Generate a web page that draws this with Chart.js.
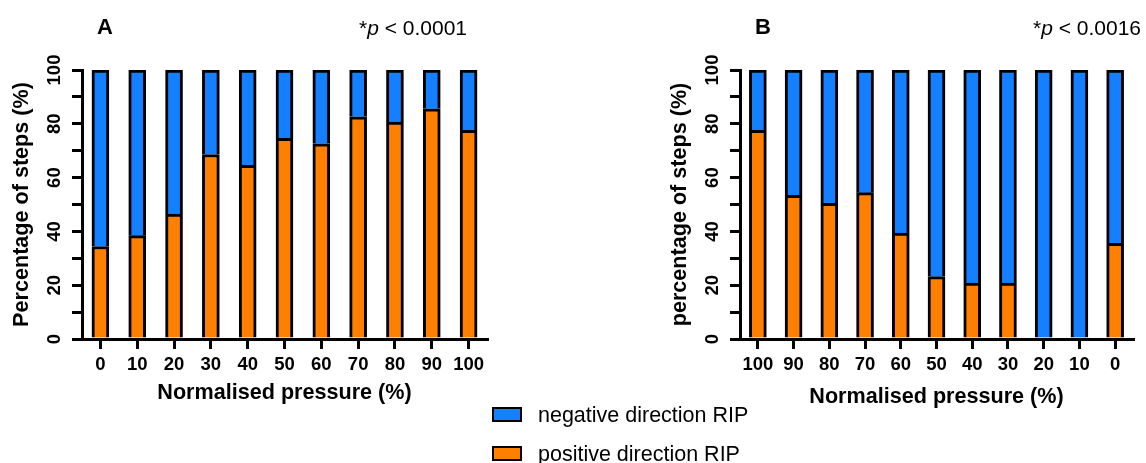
<!DOCTYPE html>
<html>
<head>
<meta charset="utf-8">
<script src="https://cdn.jsdelivr.net/npm/chart.js@4"></script>
<style>
  body { margin: 0; background: #fff; font-family: "Liberation Sans", Arial, sans-serif; }
  #wrap { position: relative; width: 1146px; height: 463px; overflow: hidden; }
  .painel { position: absolute; top: 0; height: 420px; }
  .txt { position: absolute; color: #000; white-space: nowrap; line-height: 1; }
  .letra { font-weight: bold; font-size: 22px; }
  .pval { font-size: 21px; }
  .caixa { position: absolute; left: 492px; width: 26px; height: 11px; border: 2px solid #000; }
  .leg { font-size: 21.5px; left: 538px; }
</style>
</head>
<body>
<div id="wrap">
  <div class="painel" style="left:0;width:500px"><canvas id="graficoA"></canvas></div>
  <div class="painel" style="left:658px;width:488px"><canvas id="graficoB"></canvas></div>

  <div class="txt letra" style="left:97px;top:16px">A</div>
  <div class="txt pval" style="left:359px;top:17px">*<i>p</i> &lt; 0.0001</div>
  <div class="txt letra" style="left:755px;top:16px">B</div>
  <div class="txt pval" style="left:1033px;top:17px">*<i>p</i> &lt; 0.0016</div>

  <div class="caixa" style="top:407px;background:#1480FF"></div>
  <div class="txt leg" style="top:405px">negative direction RIP</div>
  <div class="caixa" style="top:446px;background:#FF8000"></div>
  <div class="txt leg" style="top:444px">positive direction RIP</div>
</div>

<script>
const categoriasA = ['0', '10', '20', '30', '40', '50', '60', '70', '80', '90', '100'];
const positivoA = [34.4, 38.4, 46.4, 68.6, 64.6, 74.6, 72.6, 82.6, 80.6, 85.6, 77.6];
const negativoA = [65.6, 61.6, 53.6, 31.4, 35.4, 25.4, 27.4, 17.4, 19.4, 14.4, 22.4];

const categoriasB = ['100', '90', '80', '70', '60', '50', '40', '30', '20', '10', '0'];
const positivoB = [77.6, 53.4, 50.4, 54.4, 39.4, 23.2, 20.8, 20.8, 0, 0, 35.6];
const negativoB = [22.4, 46.6, 49.6, 45.6, 60.6, 76.8, 79.2, 79.2, 100, 100, 64.4];

const ticksY = [0, 20, 40, 60, 80, 100];

const AZUL = '#1480FF';
const LARANJA = '#FF8000';
const FONTE = '"Liberation Sans", Arial, sans-serif';

function criarGrafico(id, categorias, positivo, negativo, tituloY, padBaixo, alturaX) {
    const ctx = document.getElementById(id).getContext('2d');
    return new Chart(ctx, {
        type: 'bar',
        data: {
            labels: categorias,
            datasets: [
                {
                    label: 'positive direction RIP',
                    data: positivo,
                    backgroundColor: LARANJA,
                    borderColor: '#000',
                    borderWidth: 3,
                    barThickness: 17
                },
                {
                    label: 'negative direction RIP',
                    data: negativo,
                    backgroundColor: AZUL,
                    borderColor: '#000',
                    borderWidth: 3,
                    barThickness: 17
                }
            ]
        },
        options: {
            responsive: true,
            maintainAspectRatio: false,
            animation: false,
            layout: {
                padding: { left: 9, right: 13, top: 70, bottom: padBaixo }
            },
            plugins: {
                legend: { display: false },
                tooltip: { enabled: false }
            },
            scales: {
                x: {
                    stacked: true,
                    offset: true,
                    afterFit: function(scale) { scale.height = alturaX; },
                    border: { display: true, color: '#000', width: 3 },
                    grid: {
                        offset: false,
                        drawOnChartArea: false,
                        drawTicks: true,
                        tickLength: 10,
                        color: '#000',
                        lineWidth: 3
                    },
                    ticks: {
                        color: '#000',
                        padding: 5,
                        maxRotation: 0,
                        autoSkip: false,
                        font: { family: FONTE, size: 18.5, weight: 'bold' }
                    },
                    title: {
                        display: true,
                        text: 'Normalised pressure (%)',
                        color: '#000',
                        padding: 0,
                        font: { family: FONTE, size: 21.6, weight: 'bold' }
                    }
                },
                y: {
                    stacked: true,
                    min: 0,
                    max: 100,
                    afterFit: function(scale) { scale.width = 73; },
                    border: { display: true, color: '#000', width: 3 },
                    grid: {
                        drawOnChartArea: false,
                        drawTicks: true,
                        tickLength: 10,
                        color: '#000',
                        lineWidth: 3
                    },
                    ticks: {
                        stepSize: 10,
                        autoSkip: false,
                        minRotation: 90,
                        maxRotation: 90,
                        crossAlign: 'center',
                        padding: 2,
                        color: '#000',
                        font: { family: FONTE, size: 18.5, weight: 'bold' },
                        callback: function(valor) {
                            return ticksY.includes(valor) ? String(valor) : '';
                        }
                    },
                    title: {
                        display: true,
                        text: tituloY,
                        color: '#000',
                        padding: 0,
                        font: { family: FONTE, size: 21.6, weight: 'bold' }
                    }
                }
            }
        }
    });
}

criarGrafico('graficoA', categoriasA, positivoA, negativoA, 'Percentage of steps (%)', 14, 67);
criarGrafico('graficoB', categoriasB, positivoB, negativoB, 'percentage of steps (%)', 10, 71);
</script>
</body>
</html>
